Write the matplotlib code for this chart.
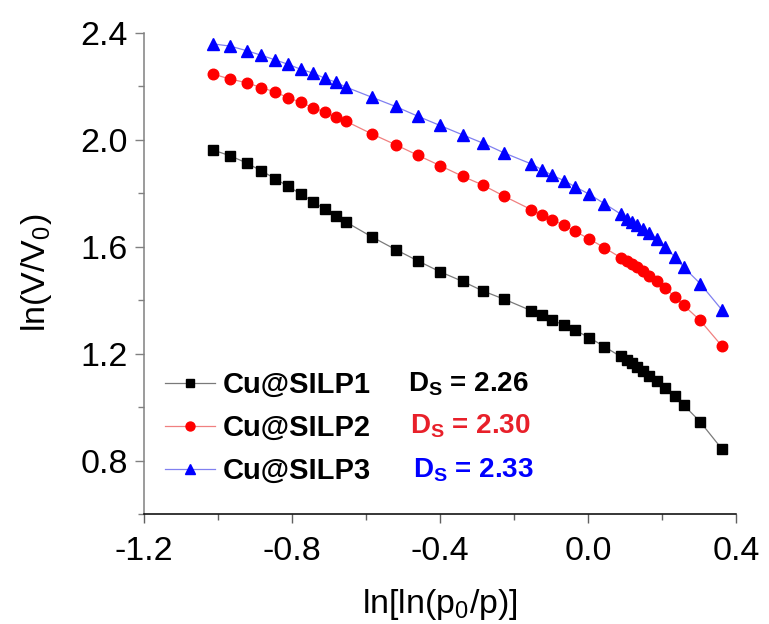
import matplotlib
matplotlib.use("Agg")
import matplotlib.pyplot as plt
from matplotlib.ticker import MultipleLocator

plt.rcParams['font.family'] = ['Liberation Sans', 'DejaVu Sans']
plt.rcParams['mathtext.fontset'] = 'custom'
plt.rcParams['mathtext.rm'] = 'Liberation Sans'
plt.rcParams['mathtext.it'] = 'Liberation Sans'
plt.rcParams['mathtext.bf'] = 'Liberation Sans:bold'

# ln[ln(p0/p)] values, shared by the three samples
x = [-1.013, -0.968, -0.923, -0.884, -0.845, -0.811, -0.776, -0.743, -0.712,
     -0.682, -0.653, -0.585, -0.520, -0.459, -0.400, -0.339, -0.284, -0.226,
     -0.153, -0.125, -0.096, -0.065, -0.035, 0.003, 0.044, 0.088, 0.105,
     0.118, 0.132, 0.149, 0.166, 0.186, 0.208, 0.234, 0.259, 0.303, 0.362]

# ln(V/V0) for each sample
silp1 = [1.961, 1.940, 1.913, 1.884, 1.854, 1.825, 1.797, 1.768, 1.740,
         1.716, 1.691, 1.637, 1.589, 1.546, 1.506, 1.470, 1.434, 1.403,
         1.360, 1.344, 1.325, 1.306, 1.287, 1.260, 1.226, 1.189, 1.176,
         1.163, 1.148, 1.133, 1.116, 1.098, 1.071, 1.040, 1.007, 0.945, 0.843]
silp2 = [2.245, 2.227, 2.213, 2.195, 2.178, 2.157, 2.139, 2.120, 2.103,
         2.084, 2.068, 2.022, 1.981, 1.941, 1.903, 1.863, 1.830, 1.788,
         1.738, 1.719, 1.701, 1.679, 1.657, 1.629, 1.596, 1.559, 1.547,
         1.536, 1.523, 1.508, 1.490, 1.471, 1.446, 1.413, 1.380, 1.324, 1.228]
silp3 = [2.358, 2.350, 2.333, 2.316, 2.298, 2.282, 2.263, 2.249, 2.230,
         2.215, 2.196, 2.159, 2.124, 2.087, 2.053, 2.018, 1.987, 1.950,
         1.909, 1.888, 1.866, 1.847, 1.824, 1.796, 1.761, 1.722, 1.704,
         1.691, 1.679, 1.666, 1.651, 1.627, 1.599, 1.562, 1.522, 1.462, 1.363]

labels = ['Cu@SILP1', 'Cu@SILP2', 'Cu@SILP3']
dims = ['2.26', '2.30', '2.33']

fig = plt.figure(figsize=(7.69, 6.24), dpi=100)
ax = fig.add_axes([0.1873, 0.1763, 0.7698, 0.7713])

series = [
    (silp1, 's', '#000000', '#7a7a7a', 6.9),
    (silp2, 'o', '#ff0000', '#f08080', 7.6),
    (silp3, '^', '#0000ff', '#8080f0', 8.8),
]
handles = []
for (y, mk, col, lcol, ms), lab in zip(series, labels):
    ax.plot(x, y, '-', color=lcol, lw=0.9, zorder=2)
    ax.plot(x, y, mk, color=col, ms=ms, mec=col, zorder=3)
    h, = ax.plot([], [], '-', marker=mk, color=lcol, lw=0.9,
                 mfc=col, mec=col, ms=ms * 0.85)
    handles.append(h)

ax.set_xlim(-1.2, 0.4)
ax.set_ylim(0.6, 2.4)
ax.xaxis.set_major_locator(MultipleLocator(0.4))
ax.xaxis.set_minor_locator(MultipleLocator(0.2))
ax.yaxis.set_minor_locator(MultipleLocator(0.2))
ax.set_yticks([0.8, 1.2, 1.6, 2.0, 2.4])
ax.xaxis.set_major_formatter(lambda v, p: f'{v:.1f}')
ax.yaxis.set_major_formatter(lambda v, p: f'{v:.1f}')

for side in ('top', 'right'):
    ax.spines[side].set_visible(False)
ax.spines['left'].set_color('#808080')
ax.spines['bottom'].set_color('#000000')
ax.spines['left'].set_linewidth(1.1)
ax.spines['bottom'].set_linewidth(1.1)

ax.tick_params(axis='both', which='major', direction='out', length=6.5,
               width=1.0, labelsize=24.5)
ax.tick_params(axis='both', which='minor', direction='out', length=4,
               width=1.0)
ax.tick_params(axis='y', which='both', color='#808080', pad=5)
ax.tick_params(axis='x', which='both', color='#606060', pad=9)

ax.set_xlabel('ln[ln(p$_0$/p)]', fontsize=24.5, labelpad=15)
ax.set_ylabel('ln(V/V$_0$)', fontsize=24.5, labelpad=19)

leg = ax.legend(handles, labels, loc='upper left',
                bbox_to_anchor=(165 / 769, 1 - 371 / 624),
                bbox_transform=fig.transFigure, frameon=False,
                prop={'weight': 'bold', 'size': 21},
                handlelength=1.72, handletextpad=0.25, labelspacing=0.52,
                borderpad=0, borderaxespad=0)

# fractal dimension annotations next to each legend row
ds_colors = ['#000000', '#e8202a', '#0000ff']
ds_x = [408, 410, 413]
ds_base = [391, 434, 477]
for d, c, px, py in zip(dims, ds_colors, ds_x, ds_base):
    fig.text(px / 769, 1 - py / 624, r'$\mathbf{D_S}$ = ' + d, color=c,
             fontsize=20, fontweight='bold', va='baseline', ha='left')

fig.savefig('out.png', dpi=100)
